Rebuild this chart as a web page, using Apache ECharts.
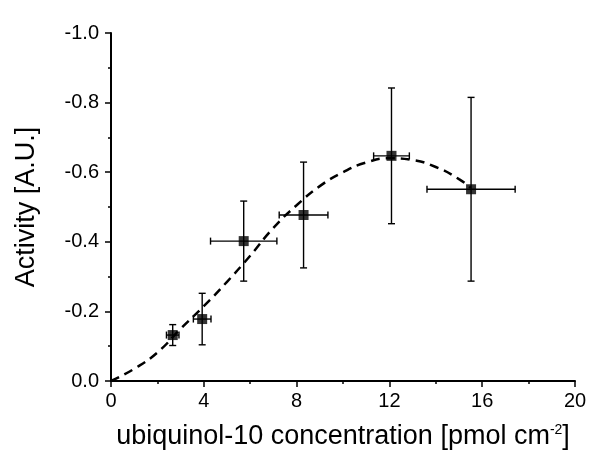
<!DOCTYPE html>
<html>
<head>
<meta charset="utf-8">
<script src="https://cdn.jsdelivr.net/npm/echarts@6/dist/echarts.min.js"></script>
<style>
  html, body { margin: 0; padding: 0; background: #fff; }
  #chart { width: 600px; height: 468px; }
</style>
</head>
<body>
<div id="chart"></div>
<script>
// measured points (x = concentration, y = activity)
const xVals = [2.66, 3.93, 5.72, 8.30, 12.09, 15.52];
const yVals = [-0.132, -0.178, -0.402, -0.477, -0.647, -0.551];
const xErr = [0.27, 0.38, 1.43, 1.05, 0.77, 1.90];
const yErr = [0.030, 0.074, 0.115, 0.152, 0.195, 0.264];

// dashed fit curve
const fitX = [0, 1, 2, 3, 4, 5, 6, 7, 8, 9, 10, 11, 12, 13, 14, 15, 15.5];
const fitY = [0, -0.035, -0.082, -0.150, -0.215, -0.285, -0.360, -0.440, -0.505, -0.560, -0.600, -0.628, -0.640, -0.635, -0.615, -0.580, -0.555];

const points = xVals.map((x, i) => [x, yVals[i]]);
const errData = xVals.map((x, i) => [x, yVals[i], xErr[i], yErr[i]]);
const fitData = fitX.map((x, i) => [x, fitY[i]]);

const chart = echarts.init(document.getElementById("chart"));

function renderErr(params, api) {
  const x = api.value(0), y = api.value(1);
  const dx = api.value(2), dy = api.value(3);
  const l = api.coord([x - dx, y]);
  const r = api.coord([x + dx, y]);
  const t = api.coord([x, y - dy]);
  const b = api.coord([x, y + dy]);
  const cap = 3.5;
  const style = { stroke: "#000", lineWidth: 1.4 };
  const line = (x1, y1, x2, y2) => ({
    type: "line",
    shape: { x1: x1, y1: y1, x2: x2, y2: y2 },
    style: style,
  });
  return {
    type: "group",
    children: [
      line(l[0], l[1], r[0], r[1]),
      line(l[0], l[1] - cap, l[0], l[1] + cap),
      line(r[0], r[1] - cap, r[0], r[1] + cap),
      line(t[0], t[1], b[0], b[1]),
      line(t[0] - cap, t[1], t[0] + cap, t[1]),
      line(b[0] - cap, b[1], b[0] + cap, b[1]),
    ],
  };
}

const font = "Liberation Sans, Arial, sans-serif";

chart.setOption({
  animation: false,
  backgroundColor: "#fff",
  grid: { left: 111, right: 25, top: 33, bottom: 87 },
  xAxis: {
    type: "value",
    min: 0,
    max: 20,
    interval: 4,
    name: "ubiquinol-10 concentration [pmol cm{sup|-2}]",
    nameLocation: "middle",
    nameGap: 42,
    nameTextStyle: {
      color: "#000",
      fontSize: 27,
      fontFamily: font,
      rich: {
        sup: { fontSize: 14, fontFamily: font, color: "#000", verticalAlign: "top", padding: [0, 0, 14, 0] },
      },
    },
    axisLine: { show: true, onZero: false, lineStyle: { color: "#000", width: 2 } },
    axisTick: { show: true, length: 6, lineStyle: { color: "#000", width: 1.5 } },
    minorTick: { show: true, splitNumber: 2, length: 3, lineStyle: { color: "#000", width: 1.5 } },
    axisLabel: { color: "#000", fontSize: 20, fontFamily: font, margin: 10 },
    splitLine: { show: false },
  },
  yAxis: {
    type: "value",
    min: -1,
    max: 0,
    interval: 0.2,
    inverse: true,
    name: "Activity [A.U.]",
    nameLocation: "middle",
    nameGap: 71,
    nameRotate: 90,
    nameTextStyle: { color: "#000", fontSize: 27, fontFamily: font },
    axisLine: { show: true, onZero: false, lineStyle: { color: "#000", width: 2 } },
    axisTick: { show: true, length: 6, lineStyle: { color: "#000", width: 1.5 } },
    minorTick: { show: true, splitNumber: 2, length: 3, lineStyle: { color: "#000", width: 1.5 } },
    axisLabel: {
      color: "#000",
      fontSize: 20,
      fontFamily: font,
      margin: 12,
      formatter: (v) => (Math.abs(v) < 1e-9 ? "0.0" : v.toFixed(1)),
    },
    splitLine: { show: false },
  },
  series: [
    {
      type: "line",
      data: fitData,
      smooth: true,
      showSymbol: false,
      lineStyle: { color: "#000", width: 2.5, type: [9, 6] },
      z: 2,
    },
    {
      type: "custom",
      data: errData,
      renderItem: renderErr,
      z: 3,
    },
    {
      type: "scatter",
      data: points,
      symbol: "rect",
      symbolSize: 10,
      itemStyle: { color: "#000" },
      z: 4,
    },
  ],
});
</script>
</body>
</html>
